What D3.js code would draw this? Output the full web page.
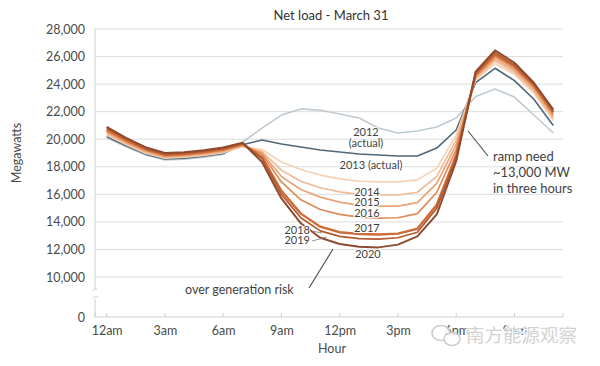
<!DOCTYPE html>
<html><head><meta charset="utf-8">
<script src="https://cdn.jsdelivr.net/npm/d3@7/dist/d3.min.js"></script>
<style>
html,body{margin:0;padding:0;background:#fff;}
svg{display:block;font-family:Lato,"Open Sans",sans-serif;}
</style></head>
<body><svg id="c" width="600" height="366"></svg>
<script>
const hours = d3.range(0, 24);
const years = ["2012","2013","2014","2015","2016","2017","2018","2019","2020"];
const load2012 = [20100,19450,18850,18500,18550,18700,18900,19800,20800,21750,22200,22100,21830,21540,20810,20450,20600,20890,21540,23100,23650,23060,21760,20450];
const load2013 = [20200,19530,18920,18560,18620,18760,18960,19600,19940,19650,19430,19220,19070,18930,18850,18780,18780,19360,20670,24100,25150,24250,22900,21000];
const load2014 = [20300,19610,18990,18620,18690,18820,19020,19450,19250,18350,17800,17400,17120,16950,16900,16900,17050,17900,20300,24300,25500,24700,23350,21350];
const load2015 = [20400,19690,19060,18680,18750,18880,19080,19500,19100,17750,16950,16480,16180,16000,15950,15950,16150,17300,19950,24400,25700,24850,23500,21500];
const load2016 = [20500,19770,19130,18740,18810,18940,19140,19550,19000,17300,16350,15800,15430,15200,15150,15150,15400,16800,19600,24500,25850,25000,23650,21650];
const load2017 = [20600,19850,19200,18800,18870,19000,19200,19600,18900,16900,15600,14900,14550,14350,14280,14300,14600,16150,19250,24600,26000,25150,23800,21800];
const load2018 = [20700,19930,19270,18860,18930,19060,19260,19650,18700,16250,14600,13650,13250,13120,13080,13150,13500,15250,18850,24700,26150,25300,23900,21950];
const load2019 = [20800,20010,19340,18920,18990,19120,19320,19700,18600,16000,14300,13350,12950,12780,12750,12850,13250,15000,18650,24800,26300,25400,24000,22050];
const load2020 = [20900,20100,19420,19000,19060,19200,19400,19750,18350,15700,13900,12850,12400,12200,12150,12350,12950,14550,18400,24900,26450,25550,24100,22150];
const seriesValues = [load2012,load2013,load2014,load2015,load2016,load2017,load2018,load2019,load2020];
const yTickValues = [0,10000,12000,14000,16000,18000,20000,22000,24000,26000,28000];
const xTickHours = [0,3,6,9,12,15,18,21];
const xTickLabels = ["12am","3am","6am","9am","12pm","3pm","6pm","9pm"];

const colors = ["#bfc9d0","#4f6778","#f5d2b4","#f0bc96","#e9a577","#e08a58","#cd6c38","#b4592e","#8e4a30"];
const widths = [1.6,1.6,1.7,1.7,1.7,1.7,2.4,1.7,2];

const svg = d3.select("#c");
const x = d3.scaleLinear().domain([-0.6, 23.5]).range([95, 563]);
const y = d3.scaleLinear().domain([0, 10000, 28000]).range([317, 277, 29]);
const txt = "#4a4a4a";

// gridlines
svg.append("g").selectAll("line").data(yTickValues.filter(v => v >= 10000)).join("line")
  .attr("x1", 95).attr("x2", 563).attr("y1", d => y(d)).attr("y2", d => y(d))
  .attr("stroke", "#dcdcdc").attr("stroke-width", 1);

// y axis labels
const yAxis = d3.axisLeft(y).tickValues(yTickValues).tickSize(0).tickPadding(0).tickFormat(d3.format(","));
const gy = svg.append("g").attr("transform", "translate(85,0)").call(yAxis);
gy.select(".domain").remove();
gy.selectAll("text").attr("fill", txt).style("font-size", "12.5px").style("font-family", "Lato, sans-serif");

// y axis line with break
svg.append("line").attr("x1", 95).attr("x2", 95).attr("y1", y(28000)).attr("y2", 289).attr("stroke", "#cfcfcf");
svg.append("line").attr("x1", 95).attr("x2", 95).attr("y1", 299).attr("y2", y(0)).attr("stroke", "#cfcfcf");
svg.append("path").attr("d", "M92,291 Q95,288 97,289").attr("fill","none").attr("stroke","#cfcfcf");
svg.append("path").attr("d", "M93,298 Q95,296 98,297").attr("fill","none").attr("stroke","#cfcfcf");

// x axis
const xAxis = d3.axisBottom(x).tickValues(xTickHours).tickSize(0).tickPadding(9)
  .tickFormat((d, i) => xTickLabels[i]);
const gx = svg.append("g").attr("transform", `translate(0,${y(0)})`).call(xAxis);
gx.select(".domain").remove();
gx.selectAll("text").attr("fill", txt).style("font-size", "12.5px").style("font-family", "Lato, sans-serif");
svg.append("line").attr("x1", 95).attr("x2", 563).attr("y1", y(0)).attr("y2", y(0)).attr("stroke", "#cfcfcf");
svg.append("g").selectAll("line").data(xTickHours.concat([-0.6, 23.5])).join("line")
  .attr("x1", d => x(d)).attr("x2", d => x(d)).attr("y1", y(0)).attr("y2", y(0) - 4)
  .attr("stroke", "#cfcfcf");

// lines
const line = d3.line().x((d, i) => x(hours[i])).y(d => y(d));
svg.append("g").selectAll("path").data(seriesValues).join("path")
  .attr("d", d => line(d)).attr("fill", "none")
  .attr("stroke", (d, i) => colors[i]).attr("stroke-width", (d, i) => widths[i])
  .attr("stroke-linejoin", "round");

// title and axis titles
svg.append("text").attr("x", 331).attr("y", 20).attr("text-anchor", "middle")
  .attr("fill", "#333").style("font-size", "13px").text("Net load - March 31");
svg.append("text").attr("transform", "translate(21,153) rotate(-90)").attr("text-anchor", "middle")
  .attr("fill", txt).style("font-size", "12.5px").text("Megawatts");
svg.append("text").attr("x", 332).attr("y", 353).attr("text-anchor", "middle")
  .attr("fill", txt).style("font-size", "12.5px").text("Hour");

// year labels
const lab = (t, xx, yy, anchor) => svg.append("text").attr("x", xx).attr("y", yy)
  .attr("text-anchor", anchor || "middle").attr("fill", "#3f3f3f").style("font-size", "11px")
  .style("paint-order", "stroke").attr("stroke", "#fff").attr("stroke-width", 2).text(t);
lab("2012", 366, 136);
lab("(actual)", 366, 147);
lab("2013 (actual)", 371, 169);
lab("2014", 367, 196);
lab("2015", 367, 206);
lab("2016", 367, 217);
lab("2017", 367, 232);
lab("2020", 368, 258);
lab("2018", 310, 234, "end");
lab("2019", 310, 244, "end");
svg.append("line").attr("x1", 312).attr("y1", 231).attr("x2", 322).attr("y2", 233).attr("stroke", "#777").attr("stroke-width", 0.8);
svg.append("line").attr("x1", 312).attr("y1", 241).attr("x2", 327).attr("y2", 237).attr("stroke", "#777").attr("stroke-width", 0.8);

// annotations
svg.append("text").attr("x", 185).attr("y", 294).attr("fill", "#3f3f3f").style("font-size", "12.5px").text("over generation risk");
svg.append("line").attr("x1", 309).attr("y1", 288).attr("x2", 333).attr("y2", 249).attr("stroke", "#555").attr("stroke-width", 1.2);
const ramp = ["ramp need", "~13,000 MW", "in three hours"];
svg.append("g").selectAll("text").data(ramp).join("text")
  .attr("x", 493).attr("y", (d, i) => 161 + i * 16).attr("fill", "#3f3f3f").style("font-size", "13px").text(d => d);
svg.append("line").attr("x1", 468).attr("y1", 131).attr("x2", 488).attr("y2", 156).attr("stroke", "#555").attr("stroke-width", 1.2);

// watermark
const wm = svg.append("g").attr("opacity", 0.9);
wm.append("ellipse").attr("cx", 441).attr("cy", 333).attr("rx", 9).attr("ry", 7.5).attr("fill", "#fff").attr("stroke", "#c8c8c8").attr("stroke-width", 1.5);
wm.append("ellipse").attr("cx", 452).attr("cy", 339).attr("rx", 8).attr("ry", 6.5).attr("fill", "#fff").attr("stroke", "#c8c8c8").attr("stroke-width", 1.5);
wm.append("text").attr("x", 466).attr("y", 342).attr("fill", "#cfcfcf")
  .style("font-family", "'Noto Sans CJK SC', sans-serif").style("font-size", "18.5px")
  .style("paint-order", "stroke").attr("stroke", "#fff").attr("stroke-width", 2).text("南方能源观察");
</script></body></html>
